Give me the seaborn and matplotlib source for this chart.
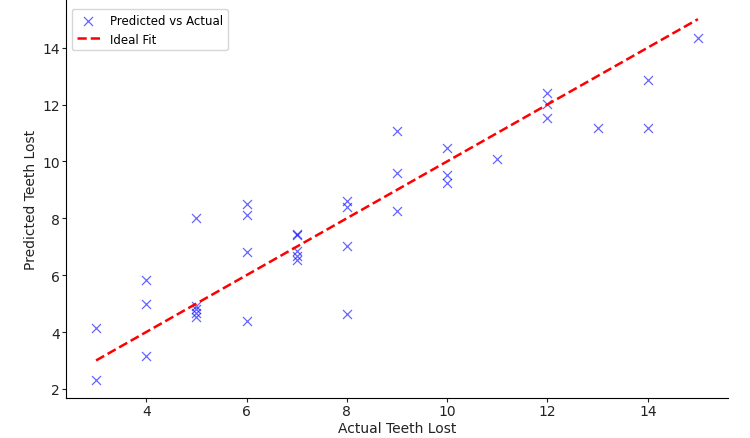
import matplotlib
matplotlib.use("Agg")
import matplotlib.pyplot as plt
import seaborn as sns
import pandas as pd

actual = [3, 3, 4, 4, 4, 5, 5, 5, 5, 5, 6, 6, 6, 6, 7, 7, 7, 7, 7,
          8, 8, 8, 8, 9, 9, 9, 10, 10, 10, 11, 12, 12, 12, 13, 14, 14, 15]
predicted = [4.13, 2.33, 5.84, 5.00, 3.17, 8.01, 4.93, 4.80, 4.67, 4.52,
             8.50, 8.13, 6.80, 4.38, 7.44, 7.41, 6.86, 6.69, 6.55,
             8.62, 8.39, 7.04, 4.63, 11.06, 9.60, 8.27, 10.46, 9.52, 9.23,
             10.08, 12.39, 12.02, 11.53, 11.16, 12.87, 11.16, 14.33]
ideal = [3, 15]

df = pd.DataFrame({"Actual": actual, "Predicted": predicted})
line_df = pd.DataFrame({"x": ideal, "y": ideal})

fig = plt.figure(figsize=(7.5, 4.39), dpi=100)
ax = fig.add_axes([66/750, 1 - 399/439, (728 - 66)/750, 399/439])

sns.scatterplot(data=df, x="Actual", y="Predicted", marker="x", color="blue",
                alpha=0.6, s=42, linewidth=0.9, label="Predicted vs Actual", ax=ax)
sns.lineplot(data=line_df, x="x", y="y", color="red", linestyle="--",
             linewidth=1.8, label="Ideal Fit", ax=ax)

ax.set_xlim(2.4, 15.6)
ax.set_ylim(1.68, 15.71)
ax.set_xticks([4, 6, 8, 10, 12, 14])
ax.set_yticks([2, 4, 6, 8, 10, 12, 14])
ax.tick_params(labelsize=10, length=3, pad=1.2, colors="#222222")
ax.set_xlabel("Actual Teeth Lost", fontsize=10, labelpad=2.5, color="#222222")
ax.set_ylabel("Predicted Teeth Lost", fontsize=10, labelpad=3.5, color="#222222")
ax.spines["top"].set_visible(False)
ax.spines["right"].set_visible(False)
ax.legend(loc="upper left", fontsize=8.5, bbox_to_anchor=(0.0, 0.99))

fig.savefig("out.png", dpi=100)
